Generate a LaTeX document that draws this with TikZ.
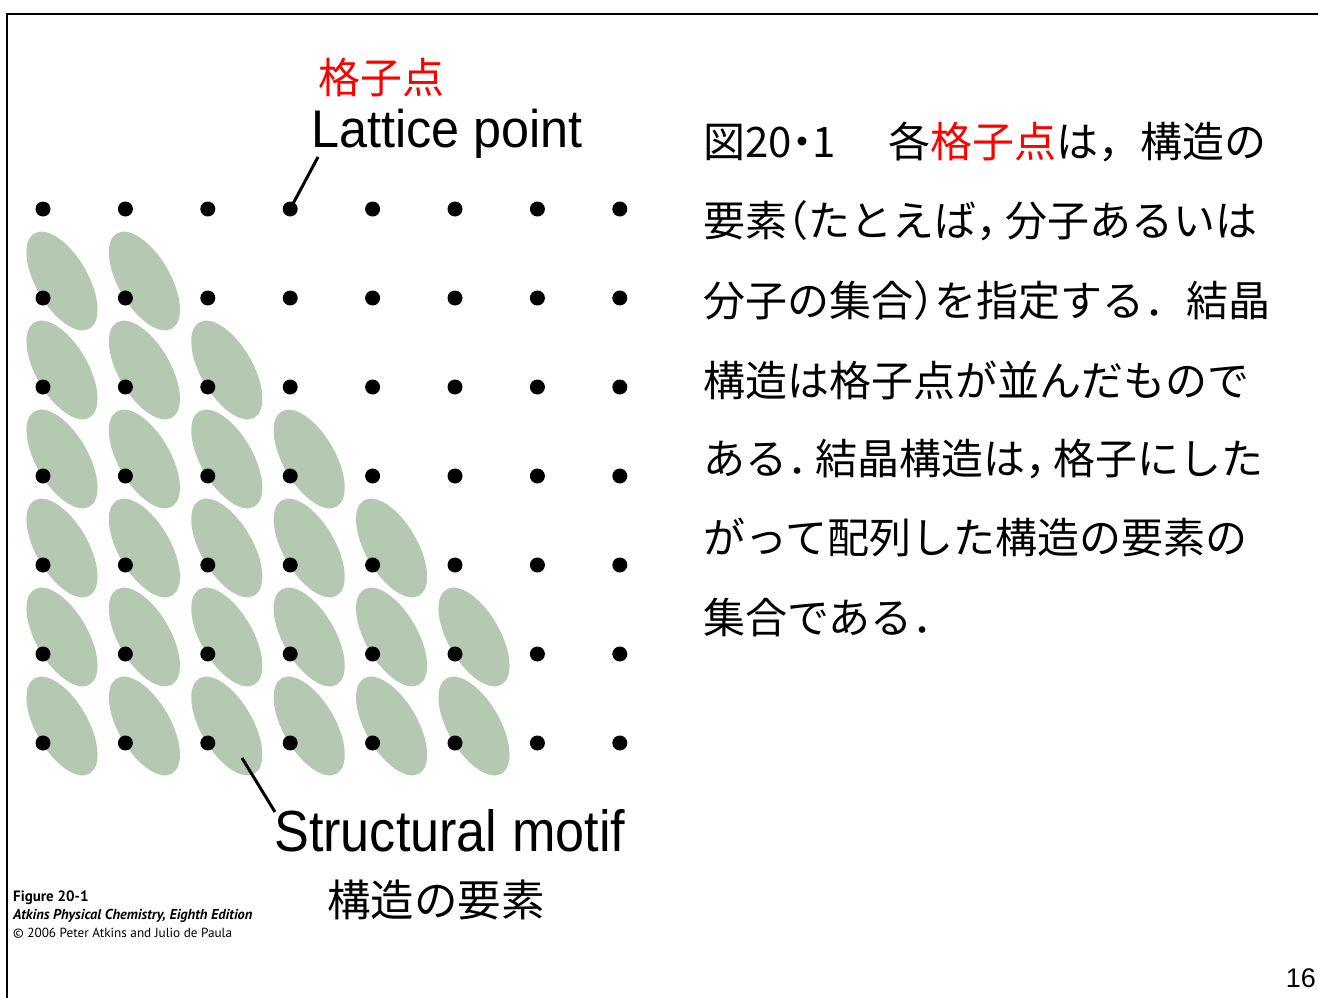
\documentclass[tikz,border=0pt]{standalone}
\usepackage{fontspec}
\setmainfont{Liberation Sans}
\newfontfamily\cjk{Noto Sans CJK JP}
\newfontfamily\cjkh[RawFeature=+halt]{Noto Sans CJK JP}
\newfontfamily\lblA[FakeStretch=0.95]{Liberation Sans}
\newfontfamily\lblB[FakeStretch=0.9]{Liberation Sans}
\newfontfamily\credit{PT Sans}
\usetikzlibrary{shapes.geometric}
\definecolor{motifgreen}{RGB}{180,200,178}
\definecolor{jred}{RGB}{255,0,0}
\begin{document}
\begin{tikzpicture}[x=1pt,y=-1pt,
  dot/.style={circle,fill=black,inner sep=0pt,minimum size=15pt},
  motif/.style={ellipse,fill=motifgreen,inner sep=0pt,minimum width=110pt,minimum height=52pt,rotate=-60},
  lead/.style={line width=3pt,black},
  captext/.style={anchor=base west,inner sep=0pt,font=\cjk\fontsize{42}{42}\selectfont},
  cred/.style={anchor=base west,inner sep=0pt},
]
\useasboundingbox (0,0) rectangle (1318,998);
\draw[line width=2pt] (7,1010) -- (7,14) -- (1330,14);

% structural motifs
\foreach \r/\k in {2/2,3/3,4/4,5/5,6/6,7/6}{
  \foreach \c in {1,...,\k}{
    \node[motif] (e-\c-\r) at ({43+82.4*(\c-1)+19},{209+89*(\r-1)-17}) {};
  }
}
% lattice points
\foreach \r in {1,...,7}{
  \foreach \c in {1,...,8}{
    \node[dot] (d-\c-\r) at ({43+82.4*(\c-1)},{209+89*(\r-1)}) {};
  }
}

% lattice point label
\node[anchor=base west,inner sep=0pt,font=\lblA\fontsize{53}{53}\selectfont] (lp) at (311,147) {Lattice point};
\node[inner sep=0pt,font=\cjk\fontsize{42}{42}\selectfont,text=jred] (lpj) at (381,78) {格子点};
\coordinate (lpe) at (318,157);
\draw[lead] (d-4-1.center) -- (lpe);

% structural motif label
\node[anchor=base west,inner sep=0pt,font=\lblB\fontsize{58}{58}\selectfont] (sm) at (274,851) {Structural motif};
\node[inner sep=0pt,font=\cjk\fontsize{43.5}{43.5}\selectfont] (smj) at (436,900) {構造の要素};
\coordinate (sms) at (242,758);
\coordinate (sme) at (275,812);
\draw[lead] (sms) -- (sme);

% caption
\node[captext] (c1) at (703,157) {図20{\cjkh ・}1\hspace{10pt}　各\textcolor{jred}{格子点}は，構造の};
\node[captext] (c2) at (703,236) {要素{\cjkh （}たとえば{\cjkh ，}\hspace{8pt}分子あるいは};
\node[captext] (c3) at (703,316) {分子の集合{\cjkh ）}を指定する．結晶};
\node[captext] (c4) at (703,396) {構造は格子点が並んだもので};
\node[captext] (c5) at (703,474) {ある{\cjkh ．}\hspace{7pt}結晶構造は{\cjkh ，}\hspace{7pt}格子にした};
\node[captext] (c6) at (703,553) {がって配列した構造の要素の};
\node[captext] (c7) at (703,633) {集合である．};

% credit
\node[cred,font=\credit\bfseries\fontsize{15}{15}\selectfont] (f1) at (13,901) {Figure 20-1};
\node[cred,font=\credit\bfseries\itshape\fontsize{14.4}{14.4}\selectfont] (f2) at (13,919) {Atkins Physical Chemistry, Eighth Edition};
\node[cred,font=\credit\fontsize{13.2}{13.2}\selectfont] (f3) at (13,937) {© 2006 Peter Atkins and Julio de Paula};

% page number
\node[anchor=base east,inner sep=0pt,font=\fontsize{27}{27}\selectfont] (pg) at (1316,987) {16};
\end{tikzpicture}
\end{document}
